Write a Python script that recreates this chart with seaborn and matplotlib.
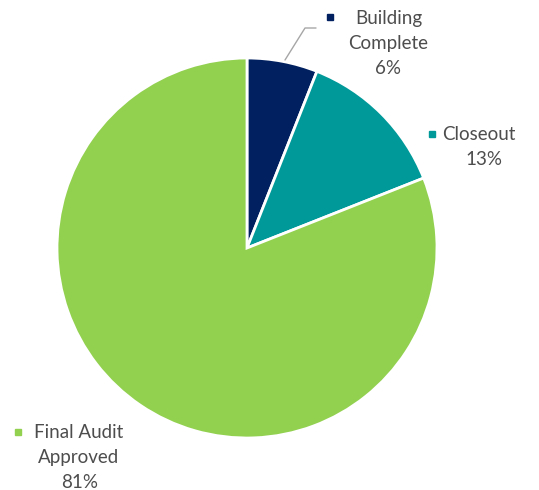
import numpy as np
import matplotlib
matplotlib.use("Agg")
from matplotlib import pyplot as plt
import seaborn as sb

# data
categories = ["Building Complete", "Closeout", "Final Audit Approved"]
shares = [6, 13, 81]
colors = ["#002060", "#009999", "#92D050"]

sb.set_style("white")
plt.rcParams["font.family"] = ["Lato", "DejaVu Sans"]

W, H = 539, 490
cx, cy, r = 247, 248, 190

fig = plt.figure(figsize=(W / 100, H / 100), dpi=100)
ax = fig.add_axes([(cx - r) / W, (H - cy - r) / H, 2 * r / W, 2 * r / H])
ax.pie(shares, colors=colors, startangle=90, counterclock=False,
       wedgeprops=dict(edgecolor="white", linewidth=2))
ax.set_xlim(-1, 1)
ax.set_ylim(-1, 1)
ax.set_aspect("equal")
ax.axis("off")


def px(x, y):
    # pixel position -> data coords
    return (x - cx) / r, (cy - y) / r


txt_col = "#4D4D4D"
fs = 13.5

# label lines: (category index, marker pos, lines with pixel positions)
labels = [
    (0, (330, 17), [("Building", 389, 18), ("Complete", 388, 43), ("6%", 388, 68)]),
    (1, (432, 134), [("Closeout", 479, 134), ("13%", 484, 159)]),
    (2, (18, 432), [("Final Audit", 79, 432), ("Approved", 79, 457), ("81%", 80, 482)]),
]
for i, mpos, lines in labels:
    mx, my = px(*mpos)
    ax.plot(mx, my, marker="s", ms=5, color=colors[i], clip_on=False)
    for s, x, y in lines:
        tx, ty = px(x, y)
        ax.text(tx, ty, s, ha="center", va="center", fontsize=fs, color=txt_col)

# leader line for the small slice
lx, ly = zip(px(285, 60), px(305, 28), px(316, 28))
ax.plot(lx, ly, color="#A6A6A6", lw=1, clip_on=False)

fig.savefig("out.png", dpi=100, facecolor="white")
